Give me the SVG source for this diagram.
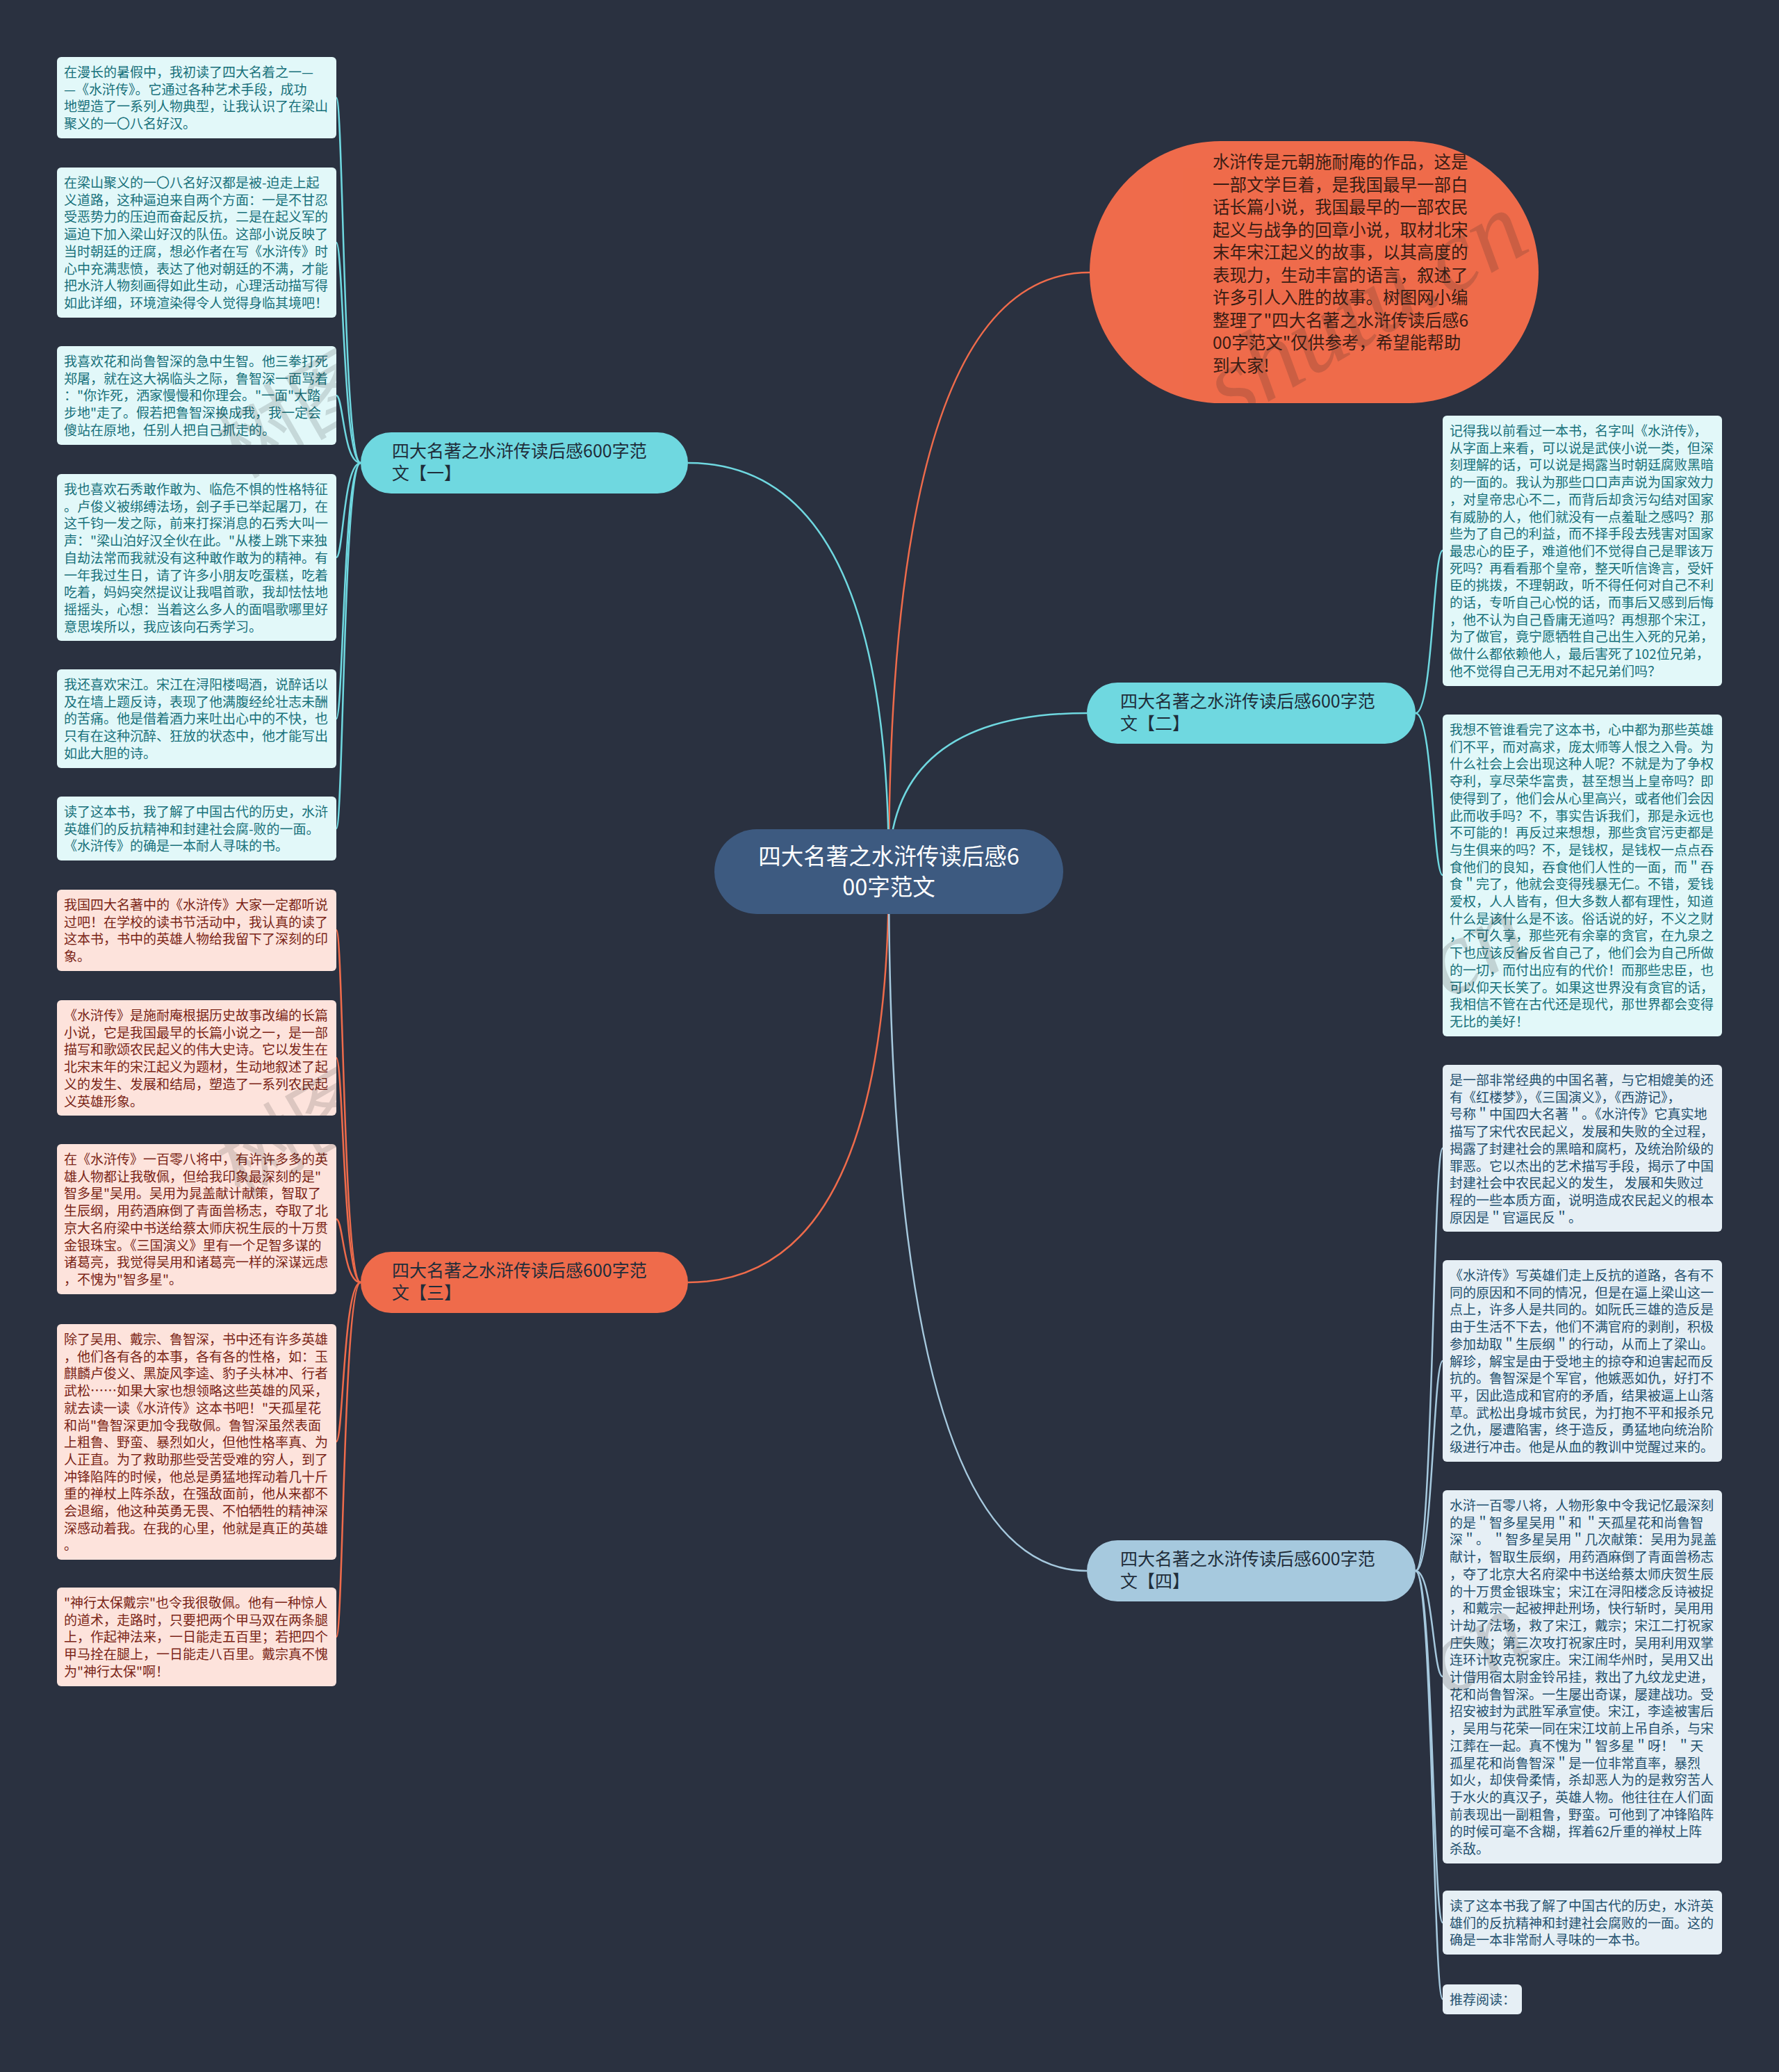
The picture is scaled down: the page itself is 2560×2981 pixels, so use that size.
<svg xmlns="http://www.w3.org/2000/svg" width="2560" height="2981" viewBox="0 0 2560 2981">
<style>
text{font-family:'Noto Sans CJK SC','Noto Sans',sans-serif;}
.lf{font-size:19px;}
.t1{fill:#17707a;}
.t3{fill:#7a2416;}
.t4{fill:#23506e;}
.b1{fill:#e2f8f9;}
.b3{fill:#fde3dc;}
.b4{fill:#e6eff5;}
.c1{fill:none;stroke:#6fd8e0;stroke-width:2.5;}
.c3{fill:none;stroke:#ef6b4b;stroke-width:2.5;}
.c4{fill:none;stroke:#a6c9de;stroke-width:2.5;}
.bt{font-size:25px;fill:#1f2d3a;}
.wm{font-family:'Liberation Serif',serif;font-style:italic;fill:#222222;opacity:0.17;font-size:150px;}
.wz{fill:#222222;opacity:0.15;font-size:120px;}
</style>
<defs>
<clipPath id="clipTop"><rect x="1568" y="203" width="646" height="377" rx="188.5"/></clipPath>
<clipPath id="clipRight">
<rect x="2076" y="598" width="402" height="389" rx="6"/>
<rect x="2076" y="1028" width="402" height="463" rx="6"/>
<rect x="2076" y="1532" width="402" height="240" rx="6"/>
<rect x="2076" y="1813" width="402" height="290" rx="6"/>
<rect x="2076" y="2144" width="402" height="537" rx="6"/>
<rect x="2076" y="2720" width="402" height="92" rx="6"/>
</clipPath>
<clipPath id="clipLeft">
<rect x="82" y="498" width="402" height="142" rx="6"/>
<rect x="82" y="682" width="402" height="240" rx="6"/>
<rect x="82" y="1439" width="402" height="166" rx="6"/>
<rect x="82" y="1646" width="402" height="216" rx="6"/>
</clipPath>
</defs>
<rect x="0" y="0" width="2560" height="2981" fill="#2a3140"/>
<g id="connectors">
<path class="c3" d="M1279 1254 Q1279 392 1568 392"/>
<path class="c1" d="M1279 1254 Q1279 666 990 666"/>
<path class="c1" d="M1279 1254 Q1279 1026 1564 1026"/>
<path class="c3" d="M1279 1254 Q1279 1845 990 1845"/>
<path class="c4" d="M1279 1254 Q1279 2260 1564 2260"/>
<path class="c1" d="M519 666 C494 666 494 140.5 484 140.5"/>
<path class="c1" d="M519 666 C494 666 494 349 484 349"/>
<path class="c1" d="M519 666 C494 666 494 569 484 569"/>
<path class="c1" d="M519 666 C494 666 494 802 484 802"/>
<path class="c1" d="M519 666 C494 666 494 1034 484 1034"/>
<path class="c1" d="M519 666 C494 666 494 1192 484 1192"/>
<path class="c3" d="M519 1845 C494 1845 494 1338 484 1338"/>
<path class="c3" d="M519 1845 C494 1845 494 1522 484 1522"/>
<path class="c3" d="M519 1845 C494 1845 494 1754 484 1754"/>
<path class="c3" d="M519 1845 C494 1845 494 2074 484 2074"/>
<path class="c3" d="M519 1845 C494 1845 494 2355 484 2355"/>
<path class="c1" d="M2037 1026 C2062 1026 2062 792 2076 792"/>
<path class="c1" d="M2037 1026 C2062 1026 2062 1259 2076 1259"/>
<path class="c4" d="M2037 2260 C2062 2260 2062 1652 2076 1652"/>
<path class="c4" d="M2037 2260 C2062 2260 2062 1958 2076 1958"/>
<path class="c4" d="M2037 2260 C2062 2260 2062 2412 2076 2412"/>
<path class="c4" d="M2037 2260 C2062 2260 2062 2766 2076 2766"/>
<path class="c4" d="M2037 2260 C2062 2260 2062 2876 2076 2876"/>
</g>
<g id="root">
<rect x="1028" y="1193" width="502" height="122" rx="61" fill="#3d5a80"/>
<text x="1279" y="1244" font-size="32.5" fill="#ffffff" text-anchor="middle">四大名著之水浒传读后感6<tspan x="1279" dy="44">00字范文</tspan></text>
</g>
<g id="intro">
<rect x="1568" y="203" width="646" height="377" rx="188.5" fill="#ef6b4b"/>
<text x="1745" y="242" font-size="24.5" fill="#3a1d14"><tspan x="1745">水浒传是元朝施耐庵的作品，这是</tspan><tspan x="1745" dy="32.5">一部文学巨着，是我国最早一部白</tspan><tspan x="1745" dy="32.5">话长篇小说，我国最早的一部农民</tspan><tspan x="1745" dy="32.5">起义与战争的回章小说，取材北宋</tspan><tspan x="1745" dy="32.5">末年宋江起义的故事，以其高度的</tspan><tspan x="1745" dy="32.5">表现力，生动丰富的语言，叙述了</tspan><tspan x="1745" dy="32.5">许多引人入胜的故事。树图网小编</tspan><tspan x="1745" dy="32.5">整理了"四大名著之水浒传读后感6</tspan><tspan x="1745" dy="32.5">00字范文"仅供参考，希望能帮助</tspan><tspan x="1745" dy="32.5">到大家!</tspan></text>
</g>
<g id="branch1">
<rect x="519" y="622" width="471" height="88" rx="44" fill="#6fd8e0"/>
<text class="bt" x="564" y="658">四大名著之水浒传读后感600字范<tspan x="564" dy="32">文【一】</tspan></text>
</g>
<g id="branch2">
<rect x="1564" y="982" width="473" height="88" rx="44" fill="#6fd8e0"/>
<text class="bt" x="1612" y="1018">四大名著之水浒传读后感600字范<tspan x="1612" dy="32">文【二】</tspan></text>
</g>
<g id="branch3">
<rect x="519" y="1801" width="471" height="88" rx="44" fill="#ef6b4b"/>
<text class="bt" x="564" y="1837">四大名著之水浒传读后感600字范<tspan x="564" dy="32">文【三】</tspan></text>
</g>
<g id="branch4">
<rect x="1564" y="2216" width="473" height="88" rx="44" fill="#a6c9de"/>
<text class="bt" x="1612" y="2252">四大名著之水浒传读后感600字范<tspan x="1612" dy="32">文【四】</tspan></text>
</g>
<g id="leaf1">
<rect class="b1" x="82" y="82" width="402" height="117" rx="6"/>
<text class="lf t1" x="92" y="111"><tspan x="92">在漫长的暑假中，我初读了四大名着之一—</tspan><tspan x="92" dy="24.7">—《水浒传》。它通过各种艺术手段，成功</tspan><tspan x="92" dy="24.7">地塑造了一系列人物典型，让我认识了在梁山</tspan><tspan x="92" dy="24.7">聚义的一〇八名好汉。</tspan></text>
</g>
<g id="leaf2">
<rect class="b1" x="82" y="241" width="402" height="216" rx="6"/>
<text class="lf t1" x="92" y="270"><tspan x="92">在梁山聚义的一〇八名好汉都是被-迫走上起</tspan><tspan x="92" dy="24.7">义道路，这种逼迫来自两个方面：一是不甘忍</tspan><tspan x="92" dy="24.7">受恶势力的压迫而奋起反抗，二是在起义军的</tspan><tspan x="92" dy="24.7">逼迫下加入梁山好汉的队伍。这部小说反映了</tspan><tspan x="92" dy="24.7">当时朝廷的迂腐，想必作者在写《水浒传》时</tspan><tspan x="92" dy="24.7">心中充满悲愤，表达了他对朝廷的不满，才能</tspan><tspan x="92" dy="24.7">把水浒人物刻画得如此生动，心理活动描写得</tspan><tspan x="92" dy="24.7">如此详细，环境渲染得令人觉得身临其境吧！</tspan></text>
</g>
<g id="leaf3">
<rect class="b1" x="82" y="498" width="402" height="142" rx="6"/>
<text class="lf t1" x="92" y="527"><tspan x="92">我喜欢花和尚鲁智深的急中生智。他三拳打死</tspan><tspan x="92" dy="24.7">郑屠，就在这大祸临头之际，鲁智深一面骂着</tspan><tspan x="92" dy="24.7">："你诈死，洒家慢慢和你理会。"一面"大踏</tspan><tspan x="92" dy="24.7">步地"走了。假若把鲁智深换成我，我一定会</tspan><tspan x="92" dy="24.7">傻站在原地，任别人把自己抓走的。</tspan></text>
</g>
<g id="leaf4">
<rect class="b1" x="82" y="682" width="402" height="240" rx="6"/>
<text class="lf t1" x="92" y="711"><tspan x="92">我也喜欢石秀敢作敢为、临危不惧的性格特征</tspan><tspan x="92" dy="24.7">。卢俊义被绑缚法场，刽子手已举起屠刀，在</tspan><tspan x="92" dy="24.7">这千钧一发之际，前来打探消息的石秀大叫一</tspan><tspan x="92" dy="24.7">声："梁山泊好汉全伙在此。"从楼上跳下来独</tspan><tspan x="92" dy="24.7">自劫法常而我就没有这种敢作敢为的精神。有</tspan><tspan x="92" dy="24.7">一年我过生日，请了许多小朋友吃蛋糕，吃着</tspan><tspan x="92" dy="24.7">吃着，妈妈突然提议让我唱首歌，我却怯怯地</tspan><tspan x="92" dy="24.7">摇摇头，心想：当着这么多人的面唱歌哪里好</tspan><tspan x="92" dy="24.7">意思埃所以，我应该向石秀学习。</tspan></text>
</g>
<g id="leaf5">
<rect class="b1" x="82" y="963" width="402" height="142" rx="6"/>
<text class="lf t1" x="92" y="992"><tspan x="92">我还喜欢宋江。宋江在浔阳楼喝酒，说醉话以</tspan><tspan x="92" dy="24.7">及在墙上题反诗，表现了他满腹经纶壮志未酬</tspan><tspan x="92" dy="24.7">的苦痛。他是借着酒力来吐出心中的不快，也</tspan><tspan x="92" dy="24.7">只有在这种沉醉、狂放的状态中，他才能写出</tspan><tspan x="92" dy="24.7">如此大胆的诗。</tspan></text>
</g>
<g id="leaf6">
<rect class="b1" x="82" y="1146" width="402" height="92" rx="6"/>
<text class="lf t1" x="92" y="1175"><tspan x="92">读了这本书，我了解了中国古代的历史，水浒</tspan><tspan x="92" dy="24.7">英雄们的反抗精神和封建社会腐-败的一面。</tspan><tspan x="92" dy="24.7">《水浒传》的确是一本耐人寻味的书。</tspan></text>
</g>
<g id="leaf7">
<rect class="b3" x="82" y="1280" width="402" height="117" rx="6"/>
<text class="lf t3" x="92" y="1309"><tspan x="92">我国四大名著中的《水浒传》大家一定都听说</tspan><tspan x="92" dy="24.7">过吧！在学校的读书节活动中，我认真的读了</tspan><tspan x="92" dy="24.7">这本书，书中的英雄人物给我留下了深刻的印</tspan><tspan x="92" dy="24.7">象。</tspan></text>
</g>
<g id="leaf8">
<rect class="b3" x="82" y="1439" width="402" height="166" rx="6"/>
<text class="lf t3" x="92" y="1468"><tspan x="92">《水浒传》是施耐庵根据历史故事改编的长篇</tspan><tspan x="92" dy="24.7">小说，它是我国最早的长篇小说之一，是一部</tspan><tspan x="92" dy="24.7">描写和歌颂农民起义的伟大史诗。它以发生在</tspan><tspan x="92" dy="24.7">北宋末年的宋江起义为题材，生动地叙述了起</tspan><tspan x="92" dy="24.7">义的发生、发展和结局，塑造了一系列农民起</tspan><tspan x="92" dy="24.7">义英雄形象。</tspan></text>
</g>
<g id="leaf9">
<rect class="b3" x="82" y="1646" width="402" height="216" rx="6"/>
<text class="lf t3" x="92" y="1675"><tspan x="92">在《水浒传》一百零八将中，有许许多多的英</tspan><tspan x="92" dy="24.7">雄人物都让我敬佩，但给我印象最深刻的是"</tspan><tspan x="92" dy="24.7">智多星"吴用。吴用为晁盖献计献策，智取了</tspan><tspan x="92" dy="24.7">生辰纲，用药酒麻倒了青面兽杨志，夺取了北</tspan><tspan x="92" dy="24.7">京大名府梁中书送给蔡太师庆祝生辰的十万贯</tspan><tspan x="92" dy="24.7">金银珠宝。《三国演义》里有一个足智多谋的</tspan><tspan x="92" dy="24.7">诸葛亮，我觉得吴用和诸葛亮一样的深谋远虑</tspan><tspan x="92" dy="24.7">，不愧为"智多星"。</tspan></text>
</g>
<g id="leaf10">
<rect class="b3" x="82" y="1905" width="402" height="339" rx="6"/>
<text class="lf t3" x="92" y="1934"><tspan x="92">除了吴用、戴宗、鲁智深，书中还有许多英雄</tspan><tspan x="92" dy="24.7">，他们各有各的本事，各有各的性格，如：玉</tspan><tspan x="92" dy="24.7">麒麟卢俊义、黑旋风李逵、豹子头林冲、行者</tspan><tspan x="92" dy="24.7">武松……如果大家也想领略这些英雄的风采，</tspan><tspan x="92" dy="24.7">就去读一读《水浒传》这本书吧！"天孤星花</tspan><tspan x="92" dy="24.7">和尚"鲁智深更加令我敬佩。鲁智深虽然表面</tspan><tspan x="92" dy="24.7">上粗鲁、野蛮、暴烈如火，但他性格率真、为</tspan><tspan x="92" dy="24.7">人正直。为了救助那些受苦受难的穷人，到了</tspan><tspan x="92" dy="24.7">冲锋陷阵的时候，他总是勇猛地挥动着几十斤</tspan><tspan x="92" dy="24.7">重的禅杖上阵杀敌，在强敌面前，他从来都不</tspan><tspan x="92" dy="24.7">会退缩，他这种英勇无畏、不怕牺牲的精神深</tspan><tspan x="92" dy="24.7">深感动着我。在我的心里，他就是真正的英雄</tspan><tspan x="92" dy="24.7">。</tspan></text>
</g>
<g id="leaf11">
<rect class="b3" x="82" y="2284" width="402" height="142" rx="6"/>
<text class="lf t3" x="92" y="2313"><tspan x="92">"神行太保戴宗"也令我很敬佩。他有一种惊人</tspan><tspan x="92" dy="24.7">的道术，走路时，只要把两个甲马双在两条腿</tspan><tspan x="92" dy="24.7">上，作起神法来，一日能走五百里；若把四个</tspan><tspan x="92" dy="24.7">甲马拴在腿上，一日能走八百里。戴宗真不愧</tspan><tspan x="92" dy="24.7">为"神行太保"啊！</tspan></text>
</g>
<g id="leaf12">
<rect class="b1" x="2076" y="598" width="402" height="389" rx="6"/>
<text class="lf t1" x="2086" y="627"><tspan x="2086">记得我以前看过一本书，名字叫《水浒传》，</tspan><tspan x="2086" dy="24.7">从字面上来看，可以说是武侠小说一类，但深</tspan><tspan x="2086" dy="24.7">刻理解的话，可以说是揭露当时朝廷腐败黑暗</tspan><tspan x="2086" dy="24.7">的一面的。我认为那些口口声声说为国家效力</tspan><tspan x="2086" dy="24.7">，对皇帝忠心不二，而背后却贪污勾结对国家</tspan><tspan x="2086" dy="24.7">有威胁的人，他们就没有一点羞耻之感吗？那</tspan><tspan x="2086" dy="24.7">些为了自己的利益，而不择手段去残害对国家</tspan><tspan x="2086" dy="24.7">最忠心的臣子，难道他们不觉得自己是罪该万</tspan><tspan x="2086" dy="24.7">死吗？再看看那个皇帝，整天听信谗言，受奸</tspan><tspan x="2086" dy="24.7">臣的挑拨，不理朝政，听不得任何对自己不利</tspan><tspan x="2086" dy="24.7">的话，专听自己心悦的话，而事后又感到后悔</tspan><tspan x="2086" dy="24.7">，他不认为自己昏庸无道吗？再想那个宋江，</tspan><tspan x="2086" dy="24.7">为了做官，竟宁愿牺牲自己出生入死的兄弟，</tspan><tspan x="2086" dy="24.7">做什么都依赖他人，最后害死了102位兄弟，</tspan><tspan x="2086" dy="24.7">他不觉得自己无用对不起兄弟们吗？</tspan></text>
</g>
<g id="leaf13">
<rect class="b1" x="2076" y="1028" width="402" height="463" rx="6"/>
<text class="lf t1" x="2086" y="1057"><tspan x="2086">我想不管谁看完了这本书，心中都为那些英雄</tspan><tspan x="2086" dy="24.7">们不平，而对高求，庞太师等人恨之入骨。为</tspan><tspan x="2086" dy="24.7">什么社会上会出现这种人呢？不就是为了争权</tspan><tspan x="2086" dy="24.7">夺利，享尽荣华富贵，甚至想当上皇帝吗？即</tspan><tspan x="2086" dy="24.7">使得到了，他们会从心里高兴，或者他们会因</tspan><tspan x="2086" dy="24.7">此而收手吗？不，事实告诉我们，那是永远也</tspan><tspan x="2086" dy="24.7">不可能的！再反过来想想，那些贪官污吏都是</tspan><tspan x="2086" dy="24.7">与生俱来的吗？不，是钱权，是钱权一点点吞</tspan><tspan x="2086" dy="24.7">食他们的良知，吞食他们人性的一面，而＂吞</tspan><tspan x="2086" dy="24.7">食＂完了，他就会变得残暴无仁。不错，爱钱</tspan><tspan x="2086" dy="24.7">爱权，人人皆有，但大多数人都有理性，知道</tspan><tspan x="2086" dy="24.7">什么是该什么是不该。俗话说的好，不义之财</tspan><tspan x="2086" dy="24.7">，不可久享，那些死有余辜的贪官，在九泉之</tspan><tspan x="2086" dy="24.7">下也应该反省反省自己了，他们会为自己所做</tspan><tspan x="2086" dy="24.7">的一切，而付出应有的代价！而那些忠臣，也</tspan><tspan x="2086" dy="24.7">可以仰天长笑了。如果这世界没有贪官的话，</tspan><tspan x="2086" dy="24.7">我相信不管在古代还是现代，那世界都会变得</tspan><tspan x="2086" dy="24.7">无比的美好！</tspan></text>
</g>
<g id="leaf14">
<rect class="b4" x="2076" y="1532" width="402" height="240" rx="6"/>
<text class="lf t4" x="2086" y="1561"><tspan x="2086">是一部非常经典的中国名著，与它相媲美的还</tspan><tspan x="2086" dy="24.7">有《红楼梦》，《三国演义》，《西游记》，</tspan><tspan x="2086" dy="24.7">号称＂中国四大名著＂。《水浒传》它真实地</tspan><tspan x="2086" dy="24.7">描写了宋代农民起义，发展和失败的全过程，</tspan><tspan x="2086" dy="24.7">揭露了封建社会的黑暗和腐朽，及统治阶级的</tspan><tspan x="2086" dy="24.7">罪恶。它以杰出的艺术描写手段，揭示了中国</tspan><tspan x="2086" dy="24.7">封建社会中农民起义的发生， 发展和失败过</tspan><tspan x="2086" dy="24.7">程的一些本质方面，说明造成农民起义的根本</tspan><tspan x="2086" dy="24.7">原因是＂官逼民反＂。</tspan></text>
</g>
<g id="leaf15">
<rect class="b4" x="2076" y="1813" width="402" height="290" rx="6"/>
<text class="lf t4" x="2086" y="1842"><tspan x="2086">《水浒传》写英雄们走上反抗的道路，各有不</tspan><tspan x="2086" dy="24.7">同的原因和不同的情况，但是在逼上梁山这一</tspan><tspan x="2086" dy="24.7">点上，许多人是共同的。如阮氏三雄的造反是</tspan><tspan x="2086" dy="24.7">由于生活不下去，他们不满官府的剥削，积极</tspan><tspan x="2086" dy="24.7">参加劫取＂生辰纲＂的行动，从而上了梁山。</tspan><tspan x="2086" dy="24.7">解珍，解宝是由于受地主的掠夺和迫害起而反</tspan><tspan x="2086" dy="24.7">抗的。鲁智深是个军官，他嫉恶如仇，好打不</tspan><tspan x="2086" dy="24.7">平，因此造成和官府的矛盾，结果被逼上山落</tspan><tspan x="2086" dy="24.7">草。武松出身城市贫民，为打抱不平和报杀兄</tspan><tspan x="2086" dy="24.7">之仇，屡遭陷害，终于造反，勇猛地向统治阶</tspan><tspan x="2086" dy="24.7">级进行冲击。他是从血的教训中觉醒过来的。</tspan></text>
</g>
<g id="leaf16">
<rect class="b4" x="2076" y="2144" width="402" height="537" rx="6"/>
<text class="lf t4" x="2086" y="2173"><tspan x="2086">水浒一百零八将，人物形象中令我记忆最深刻</tspan><tspan x="2086" dy="24.7">的是＂智多星吴用＂和 ＂天孤星花和尚鲁智</tspan><tspan x="2086" dy="24.7">深＂。 ＂智多星吴用＂几次献策：吴用为晁盖</tspan><tspan x="2086" dy="24.7">献计，智取生辰纲，用药酒麻倒了青面兽杨志</tspan><tspan x="2086" dy="24.7">，夺了北京大名府梁中书送给蔡太师庆贺生辰</tspan><tspan x="2086" dy="24.7">的十万贯金银珠宝；宋江在浔阳楼念反诗被捉</tspan><tspan x="2086" dy="24.7">，和戴宗一起被押赴刑场，快行斩时，吴用用</tspan><tspan x="2086" dy="24.7">计劫了法场，救了宋江，戴宗；宋江二打祝家</tspan><tspan x="2086" dy="24.7">庄失败；第三次攻打祝家庄时，吴用利用双掌</tspan><tspan x="2086" dy="24.7">连环计攻克祝家庄。宋江闹华州时，吴用又出</tspan><tspan x="2086" dy="24.7">计借用宿太尉金铃吊挂，救出了九纹龙史进，</tspan><tspan x="2086" dy="24.7">花和尚鲁智深。一生屡出奇谋，屡建战功。受</tspan><tspan x="2086" dy="24.7">招安被封为武胜军承宣使。宋江，李逵被害后</tspan><tspan x="2086" dy="24.7">，吴用与花荣一同在宋江坟前上吊自杀，与宋</tspan><tspan x="2086" dy="24.7">江葬在一起。真不愧为＂智多星＂呀！ ＂天</tspan><tspan x="2086" dy="24.7">孤星花和尚鲁智深＂是一位非常直率，暴烈</tspan><tspan x="2086" dy="24.7">如火，却侠骨柔情，杀却恶人为的是救穷苦人</tspan><tspan x="2086" dy="24.7">于水火的真汉子，英雄人物。他往往在人们面</tspan><tspan x="2086" dy="24.7">前表现出一副粗鲁，野蛮。可他到了冲锋陷阵</tspan><tspan x="2086" dy="24.7">的时候可毫不含糊，挥着62斤重的禅杖上阵</tspan><tspan x="2086" dy="24.7">杀敌。</tspan></text>
</g>
<g id="leaf17">
<rect class="b4" x="2076" y="2720" width="402" height="92" rx="6"/>
<text class="lf t4" x="2086" y="2749"><tspan x="2086">读了这本书我了解了中国古代的历史，水浒英</tspan><tspan x="2086" dy="24.7">雄们的反抗精神和封建社会腐败的一面。这的</tspan><tspan x="2086" dy="24.7">确是一本非常耐人寻味的一本书。</tspan></text>
</g>
<g id="leaf18">
<rect class="b4" x="2076" y="2855" width="114" height="43" rx="6"/>
<text class="lf t4" x="2086" y="2884">推荐阅读：</text>
</g>
<g id="watermark">
<g clip-path="url(#clipTop)"><text class="wm" transform="translate(1770 610) rotate(-30)">shutu.cn</text></g>
<g clip-path="url(#clipRight)">
<text class="wm" transform="translate(1770 1620) rotate(-30)">shutu.cn</text>
<text class="wm" transform="translate(1770 2625) rotate(-30)">shutu.cn</text>
</g>
<g clip-path="url(#clipLeft)">
<text class="wz" transform="translate(345 690) rotate(-30)">树图</text>
<text class="wz" transform="translate(345 1725) rotate(-30)">树图</text>
</g>
</g>
</svg>
